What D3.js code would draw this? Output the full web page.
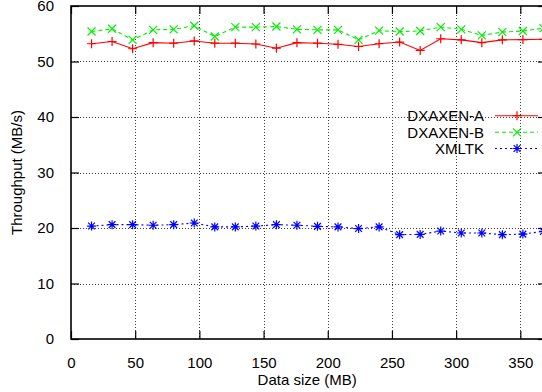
<!DOCTYPE html>
<html>
<head>
<meta charset="utf-8">
<script src="https://cdn.jsdelivr.net/npm/d3@7"></script>
<style>
  html, body { margin: 0; padding: 0; background: #fff; }
  svg { display: block; }
  text { font-family: "Liberation Sans", Arial, Helvetica, sans-serif; fill: #000; }
</style>
</head>
<body>
<svg id="chart" width="542" height="392"></svg>
<script>
// Data size (MB) for each run
const dataSize = [16, 32, 48, 64, 80, 96, 112, 128, 144, 160, 176, 192,
                  208, 224, 240, 256, 272, 288, 304, 320, 336, 352, 368];

// Throughput (MB/s) per implementation
const dxaxenA = [53.2, 53.6, 52.3, 53.4, 53.3, 53.7, 53.3, 53.3, 53.15, 52.4, 53.4, 53.3,
                 53.1, 52.7, 53.2, 53.5, 52.0, 54.1, 53.9, 53.4, 53.9, 53.95, 54.0];
const dxaxenB = [55.4, 55.9, 53.9, 55.7, 55.8, 56.45, 54.5, 56.2, 56.2, 56.3, 55.8, 55.7,
                 55.7, 53.9, 55.55, 55.4, 55.5, 56.2, 55.8, 54.7, 55.3, 55.5, 56.0];
const xmltk   = [20.35, 20.6, 20.6, 20.5, 20.6, 20.9, 20.2, 20.2, 20.35, 20.6, 20.5, 20.3,
                 20.2, 19.9, 20.2, 18.8, 18.85, 19.45, 19.1, 19.1, 18.8, 18.9, 19.4];

const seriesNames = ["DXAXEN-A", "DXAXEN-B", "XMLTK"];
const xTicks = [0, 50, 100, 150, 200, 250, 300, 350];
const yTicks = [0, 10, 20, 30, 40, 50, 60];

(function draw() {
  const svg = d3.select("#chart");

  const x = d3.scaleLinear().domain([0, 370]).range([71, 546]);
  const y = d3.scaleLinear().domain([0, 60]).range([339, 6]);

  // Marker outlines drawn with strokes, gnuplot style
  function markerPath(kind, r) {
    const plus = `M${-r},0H${r}M0,${-r}V${r}`;
    const cross = `M${-r},${-r}L${r},${r}M${-r},${r}L${r},${-r}`;
    if (kind === "plus") return plus;
    if (kind === "cross") return cross;
    const d = r * 0.75;
    return `M${-r},0H${r}M0,${-r}V${r}M${-d},${-d}L${d},${d}M${-d},${d}L${d},${-d}`;
  }

  const series = [
    { name: seriesNames[0], values: dxaxenA, color: "#ff0000", dash: null,  marker: "plus",  r: 4.5 },
    { name: seriesNames[1], values: dxaxenB, color: "#00ee00", dash: "4,3", marker: "cross", r: 4 },
    { name: seriesNames[2], values: xmltk,   color: "#0000ff", dash: "2,3", marker: "star",  r: 4.5 }
  ];

  const pLeft = x.range()[0], pRight = x.range()[1];
  const pTop = y.range()[1], pBottom = y.range()[0];

  // Grid
  const grid = svg.append("g").attr("stroke", "#000").attr("stroke-width", 1)
    .attr("stroke-dasharray", "1,2").attr("opacity", 0.75);
  grid.selectAll("line.gx").data(xTicks.filter(t => t > 0)).join("line").attr("class", "gx")
    .attr("x1", d => Math.round(x(d)) + 0.5).attr("x2", d => Math.round(x(d)) + 0.5)
    .attr("y1", pTop).attr("y2", pBottom);
  grid.selectAll("line.gy").data(yTicks.filter(t => t > 0 && t < 60)).join("line").attr("class", "gy")
    .attr("y1", d => Math.round(y(d)) + 0.5).attr("y2", d => Math.round(y(d)) + 0.5)
    .attr("x1", pLeft).attr("x2", pRight);

  // Axes with inward ticks, mirrored on top and right
  const tickLen = 8;
  const axB = svg.append("g").attr("transform", `translate(0,${pBottom})`)
    .call(d3.axisBottom(x).tickValues(xTicks).tickSize(-tickLen).tickPadding(10 + tickLen).tickSizeOuter(0));
  const axL = svg.append("g").attr("transform", `translate(${pLeft},0)`)
    .call(d3.axisLeft(y).tickValues(yTicks).tickSize(-tickLen).tickPadding(9 + tickLen).tickSizeOuter(0));
  const axT = svg.append("g").attr("transform", `translate(0,${pTop})`)
    .call(d3.axisTop(x).tickValues(xTicks).tickSize(-tickLen).tickFormat("").tickSizeOuter(0));
  const axR = svg.append("g").attr("transform", `translate(${pRight},0)`)
    .call(d3.axisRight(y).tickValues(yTicks).tickSize(-tickLen).tickFormat("").tickSizeOuter(0));

  [axB, axL, axT, axR].forEach(a => {
    a.select(".domain").remove();
    a.selectAll(".tick line").attr("stroke", "#000").attr("stroke-width", 1.2);
    a.selectAll("text").attr("font-size", 15).attr("fill", "#000")
      .attr("font-family", "'Liberation Sans', Arial, sans-serif");
  });

  // Border
  svg.append("rect").attr("x", pLeft).attr("y", pTop)
    .attr("width", pRight - pLeft).attr("height", pBottom - pTop)
    .attr("fill", "none").attr("stroke", "#000").attr("stroke-width", 1.6);

  // Axis titles
  svg.append("text").attr("x", x(184)).attr("y", 385).attr("text-anchor", "middle")
    .attr("font-size", 15).text("Data size (MB)");
  svg.append("text").attr("transform", `translate(22,${(pTop + pBottom) / 2}) rotate(-90)`)
    .attr("text-anchor", "middle").attr("font-size", 15).text("Throughput (MB/s)");

  // Series lines and markers
  const line = d3.line().x((d, i) => x(dataSize[i])).y(d => y(d));
  series.forEach(s => {
    const g = svg.append("g");
    g.append("path").attr("d", line(s.values)).attr("fill", "none")
      .attr("stroke", s.color).attr("stroke-width", 1.1)
      .attr("stroke-dasharray", s.dash);
    g.selectAll("path.m").data(s.values).join("path").attr("class", "m")
      .attr("transform", (d, i) => `translate(${x(dataSize[i])},${y(d)})`)
      .attr("d", markerPath(s.marker, s.r)).attr("fill", "none")
      .attr("stroke", s.color).attr("stroke-width", 1.2);
  });

  // Legend
  const legendRows = [115.7, 132.3, 148.5];
  series.forEach((s, i) => {
    const ly = legendRows[i];
    svg.append("text").attr("x", 484).attr("y", ly).attr("dy", "0.35em")
      .attr("text-anchor", "end").attr("font-size", 15).text(s.name);
    svg.append("line").attr("x1", 495).attr("x2", 538).attr("y1", ly).attr("y2", ly)
      .attr("stroke", s.color).attr("stroke-width", 1.1).attr("stroke-dasharray", s.dash);
    svg.append("path").attr("transform", `translate(517,${ly})`)
      .attr("d", markerPath(s.marker, s.r)).attr("fill", "none")
      .attr("stroke", s.color).attr("stroke-width", 1.2);
  });
})();
</script>
</body>
</html>
